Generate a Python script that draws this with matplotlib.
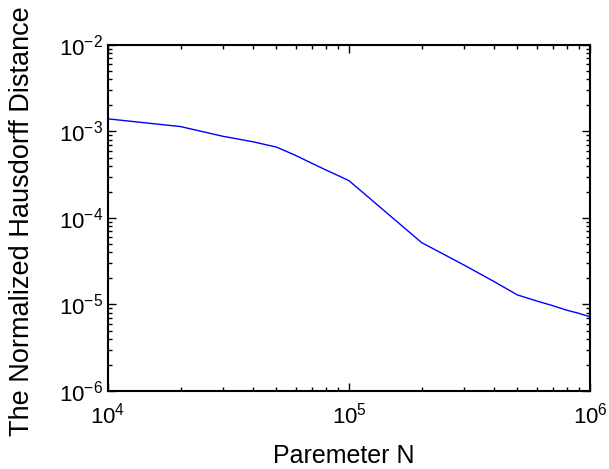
import math
import matplotlib.pyplot as plt
from matplotlib.ticker import LogLocator, FuncFormatter, NullFormatter

plt.rcParams['font.family'] = ['Liberation Sans', 'DejaVu Sans']
plt.rcParams['mathtext.fontset'] = 'custom'
plt.rcParams['mathtext.rm'] = 'Liberation Sans'

# parameter N and normalized Hausdorff distance
n_values = [1e4, 2e4, 3e4, 4e4, 5e4, 6e4, 7e4, 8e4, 9e4, 1e5,
            2e5, 3e5, 4e5, 5e5, 6e5, 7e5, 8e5, 9e5, 1e6]
distance = [1.40e-3, 1.14e-3, 8.8e-4, 7.6e-4, 6.6e-4, 5.3e-4, 4.3e-4, 3.6e-4, 3.1e-4, 2.7e-4,
            5.2e-5, 2.86e-5, 1.84e-5, 1.29e-5, 1.10e-5, 9.7e-6, 8.6e-6, 7.9e-6, 7.2e-6]

fig = plt.figure(figsize=(6.09, 4.69), dpi=100)
ax = fig.add_axes([108 / 609, 1 - 391 / 469, 482 / 609, 346 / 469])

ax.plot(n_values, distance, color='#0000ff', linewidth=1.0)

ax.set_xscale('log')
ax.set_yscale('log')
ax.set_xlim(1e4, 1e6)
ax.set_ylim(1e-6, 1e-2)

fmt = FuncFormatter(lambda v, p: r'$\mathregular{10^{%d}}$' % round(math.log10(v)))
ax.xaxis.set_major_formatter(fmt)
ax.yaxis.set_major_formatter(fmt)
ax.xaxis.set_minor_locator(LogLocator(base=10, subs=range(2, 10)))
ax.yaxis.set_minor_locator(LogLocator(base=10, subs=range(2, 10)))
ax.xaxis.set_minor_formatter(NullFormatter())
ax.yaxis.set_minor_formatter(NullFormatter())

ax.tick_params(which='both', direction='in', top=True, right=True, width=1)
ax.tick_params(which='major', length=6, labelsize=16)
ax.tick_params(which='minor', length=3)
ax.tick_params(axis='x', pad=8)
for s in ax.spines.values():
    s.set_linewidth(1.5)

ax.set_xlabel('Paremeter N', fontsize=18)
ax.set_ylabel('The Normalized Hausdorff Distance', fontsize=19.5)
ax.xaxis.set_label_coords(0.49, -0.152)
ax.yaxis.set_label_coords(-0.152, 0.49)

fig.savefig('out.png', dpi=100)
